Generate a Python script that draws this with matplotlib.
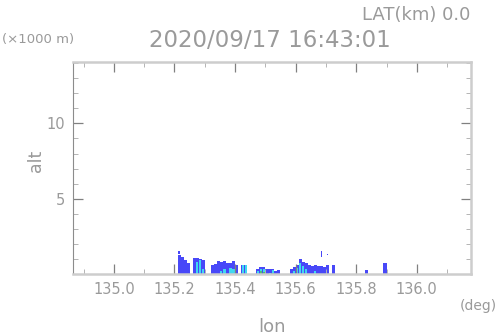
import matplotlib
matplotlib.use("Agg")
import matplotlib.pyplot as plt
from matplotlib.ticker import MultipleLocator

# ---- data ----
# column centres in longitude (deg), 0.01 deg spacing
lon = [135.215, 135.225, 135.235, 135.245,
       135.265, 135.275, 135.285, 135.295,
       135.325, 135.335, 135.345, 135.355, 135.365, 135.375, 135.385, 135.395, 135.405,
       135.425, 135.435,
       135.475, 135.485, 135.495, 135.505,
       135.515, 135.525, 135.535, 135.545,
       135.585, 135.595, 135.605, 135.615, 135.625, 135.635, 135.645,
       135.655, 135.665, 135.675, 135.685, 135.695, 135.705, 135.725,
       135.835, 135.895]
# outer echo top (km) - blue
top_km = [1.25, 1.15, 0.9, 0.7,
          1.05, 1.05, 1.0, 0.9,
          0.6, 0.65, 0.85, 0.8, 0.85, 0.7, 0.75, 0.85, 0.6,
          0.6, 0.6,
          0.35, 0.45, 0.45, 0.3,
          0.3, 0.35, 0.2, 0.25,
          0.3, 0.45, 0.6, 1.0, 0.8, 0.7, 0.6,
          0.55, 0.6, 0.5, 0.55, 0.45, 0.6, 0.6,
          0.25, 0.75]
# stronger core top (km) - light blue / cyan
core_km = [0.0, 0.0, 0.0, 0.0,
           0.0, 0.8, 0.9, 0.3,
           0.0, 0.0, 0.0, 0.2, 0.3, 0.0, 0.4, 0.3, 0.0,
           0.6, 0.6,
           0.2, 0.35, 0.3, 0.0,
           0.1, 0.25, 0.0, 0.0,
           0.0, 0.2, 0.4, 0.7, 0.5, 0.3, 0.0,
           0.0, 0.2, 0.0, 0.0, 0.0, 0.0, 0.0,
           0.0, 0.0]
# strongest core top (km) - green
inner_km = [0.0, 0.0, 0.0, 0.0,
            0.0, 0.0, 0.0, 0.0,
            0.0, 0.0, 0.0, 0.0, 0.0, 0.0, 0.0, 0.0, 0.0,
            0.0, 0.0,
            0.0, 0.2, 0.15, 0.0,
            0.0, 0.1, 0.0, 0.0,
            0.0, 0.0, 0.0, 0.0, 0.0, 0.0, 0.0,
            0.0, 0.0, 0.0, 0.0, 0.0, 0.0, 0.0,
            0.0, 0.0]
# isolated elevated echoes: lon, bottom km, top km
float_lon = [135.215, 135.685, 135.705]
float_bot = [1.35, 1.1, 1.25]
float_top = [1.5, 1.5, 1.35]

title = "2020/09/17 16:43:01"

# ---- figure ----
fig = plt.figure(figsize=(4.98, 3.36), dpi=100)
ax = fig.add_axes([0.1472, 0.1845, 0.798, 0.632])

w = 0.01
blue = "#4848f8"
cyan = "#40d8f0"
green = "#50c070"
ax.bar(lon, top_km, width=w, color=blue, linewidth=0, align="center")
ax.bar(lon, core_km, width=w * 0.7, color=cyan, linewidth=0, align="center")
ax.bar(lon, inner_km, width=w * 0.7, color=green, linewidth=0, align="center")
ax.bar(float_lon, [t - b for t, b in zip(float_top, float_bot)], bottom=float_bot,
       width=w * 0.5, color=blue, linewidth=0, align="center")

ax.set_xlim(134.866, 136.178)
ax.set_ylim(0, 14.1)

ax.xaxis.set_major_locator(MultipleLocator(0.2))
ax.xaxis.set_minor_locator(MultipleLocator(0.1))
ax.yaxis.set_major_locator(MultipleLocator(5))
ax.yaxis.set_minor_locator(MultipleLocator(1))
ax.set_yticks([5, 10])
ax.set_yticklabels(["5", "10"])
ax.set_xticks([135.0, 135.2, 135.4, 135.6, 135.8, 136.0])
ax.set_xticklabels(["135.0", "135.2", "135.4", "135.6", "135.8", "136.0"])

lc = "#9a9a9a"
ax.tick_params(which="both", direction="in", top=True, right=True,
               labelsize=10.5, labelcolor=lc)
ax.tick_params(which="major", length=7, width=0.9, color="#808080", pad=6)
ax.tick_params(which="minor", length=3.5, width=0.7, color="#b4b4b4")
for s in ax.spines.values():
    s.set_color("#cdcdcd")
    s.set_linewidth(1.8)
ax.spines["left"].set_color("#8c8c8c")
ax.spines["left"].set_linewidth(0.8)

fig.text(0.945, 0.955, "LAT(km) 0.0", ha="right", va="center", fontsize=13, color=lc)
fig.text(0.004, 0.882, "(\u00d71000 m)", ha="left", va="center", fontsize=9.5, color=lc)
fig.text(0.541, 0.878, title, ha="center", va="center", fontsize=16.5, color=lc)
fig.text(0.072, 0.52, "alt", ha="center", va="center", rotation=90, fontsize=12.5, color=lc)
fig.text(0.547, 0.028, "lon", ha="center", va="center", fontsize=13, color=lc)
fig.text(0.998, 0.088, "(deg)", ha="right", va="center", fontsize=10, color=lc)

fig.savefig("out.png", dpi=100)
